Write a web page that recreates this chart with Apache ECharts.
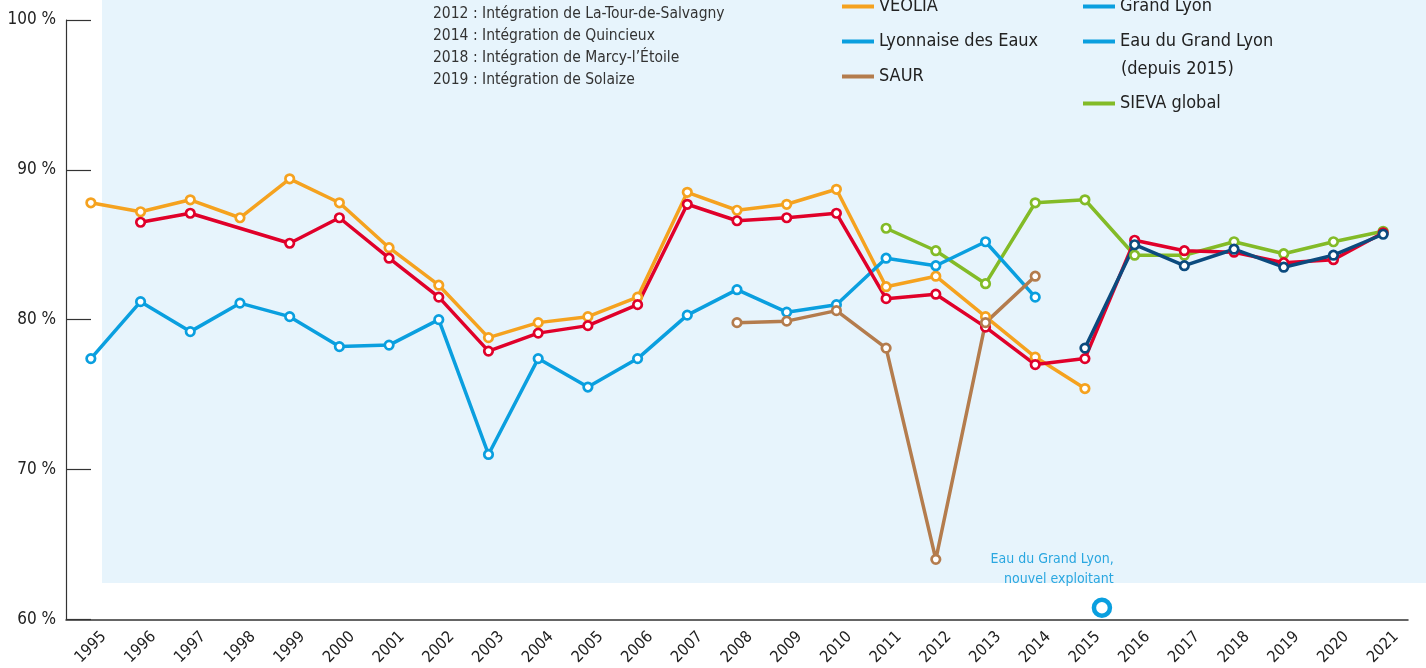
<!DOCTYPE html>
<html>
<head>
<meta charset="utf-8">
<script src="https://cdn.jsdelivr.net/npm/echarts@6/dist/echarts.min.js"></script>
<style>
html,body{margin:0;padding:0;background:#fff;}
#chart{width:1426px;height:668px;}
</style>
</head>
<body>
<div id="chart"></div>
<script>
var years = ['1995','1996','1997','1998','1999','2000','2001','2002','2003','2004','2005','2006','2007','2008','2009','2010','2011','2012','2013','2014','2015','2016','2017','2018','2019','2020','2021'];
var yTicks = [60, 70, 80, 90, 100];
var veolia = [87.8, 87.2, 88.0, 86.8, 89.4, 87.8, 84.8, 82.3, 78.8, 79.8, 80.2, 81.5, 88.5, 87.3, 87.7, 88.7, 82.2, 82.9, 80.2, 77.5, 75.4, null, null, null, null, null, null];
var lyonnaise = [77.4, 81.2, 79.2, 81.1, 80.2, 78.2, 78.3, 80.0, 71.0, 77.4, 75.5, 77.4, 80.3, 82.0, 80.5, 81.0, 84.1, 83.6, 85.2, 81.5, null, null, null, null, null, null, null];
var saur = [null, null, null, null, null, null, null, null, null, null, null, null, null, 79.8, 79.9, 80.6, 78.1, 64.0, 79.8, 82.9, null, null, null, null, null, null, null];
var grandLyon = [null, 86.5, 87.1, null, 85.1, 86.8, 84.1, 81.5, 77.9, 79.1, 79.6, 81.0, 87.7, 86.6, 86.8, 87.1, 81.4, 81.7, 79.5, 77.0, 77.4, 85.3, 84.6, 84.5, 83.8, 84.0, 85.8];
var eauGrandLyon = [null, null, null, null, null, null, null, null, null, null, null, null, null, null, null, null, null, null, null, null, 78.1, 85.0, 83.6, 84.7, 83.5, 84.3, 85.7];
var sieva = [null, null, null, null, null, null, null, null, null, null, null, null, null, null, null, null, 86.1, 84.6, 82.4, 87.8, 88.0, 84.3, 84.3, 85.2, 84.4, 85.2, 85.9];
var notes = ['2012 : Intégration de La-Tour-de-Salvagny', '2014 : Intégration de Quincieux', '2018 : Intégration de Marcy-l\u2019Étoile', '2019 : Intégration de Solaize'];
var annotationYear = '2015';
var annotationValue = 60.9;

var FONT = "'Liberation Sans Narrow', 'DejaVu Sans Condensed', 'Roboto Condensed', sans-serif";
var C = {veolia:'#f5a21f', lyon:'#0a9fdf', saur:'#b47c4d', grand:'#e0002a', eau:'#0b4a7e', sieva:'#83bb27', legendBlue:'#0a9fdf'};

function lineSeries(name, data, color, extra) {
  var s = {
    name: name, type: 'line', data: data,
    symbol: 'circle', symbolSize: 8.5,
    lineStyle: {color: color, width: 3.5},
    itemStyle: {color: '#fff', borderColor: color, borderWidth: 2.7},
    emphasis: {disabled: true},
    animation: false
  };
  for (var k in extra) s[k] = extra[k];
  return s;
}
function legendItem(name, color) {
  return {name: name, itemStyle: {color: color, borderWidth: 0, borderColor: color}};
}

var legendText = {color: '#222', fontSize: 18, fontFamily: FONT, lineHeight: 27};
var legendCommon = {orient: 'vertical', icon: 'rect', itemWidth: 32, itemHeight: 4, itemGap: 8, padding: 0, textStyle: legendText, selectedMode: false};

var noteEls = notes.map(function (t, i) {
  return {type: 'text', left: 433, top: 6 + i * 22, z: 5,
    style: {text: t, fill: '#333', font: '15.5px ' + FONT}};
});

var chart = echarts.init(document.getElementById('chart'), null, {renderer: 'canvas'});
chart.setOption({
  backgroundColor: '#fff',
  animation: false,
  grid: {left: 66, right: 18, top: 20, bottom: 46, containLabel: false},
  graphic: [
    {type: 'rect', left: 102, top: 0, z: -10, shape: {width: 1324, height: 583}, style: {fill: '#e7f4fc'}},
    {type: 'text', left: 1121, top: 60, z: 5, style: {text: '(depuis 2015)', fill: '#222', font: '18px ' + FONT}}
  ].concat(noteEls),
  legend: [
    Object.assign({left: 842, top: -7, data: [
      legendItem('VEOLIA', C.veolia), legendItem('Lyonnaise des Eaux', C.lyon), legendItem('SAUR', C.saur)
    ]}, legendCommon),
    Object.assign({left: 1083, top: -7, data: [
      legendItem('Grand Lyon', C.legendBlue), legendItem('Eau du Grand Lyon', C.legendBlue)
    ]}, legendCommon),
    Object.assign({left: 1083, top: 90, data: [legendItem('SIEVA global', C.sieva)]}, legendCommon)
  ],
  xAxis: {
    type: 'category', data: years, boundaryGap: true,
    axisLine: {lineStyle: {color: '#333', width: 1.5}},
    axisTick: {inside: true, length: 15, lineStyle: {color: '#333', width: 1.2}},
    axisLabel: {interval: 0, rotate: 45, align: 'center', verticalAlign: 'middle', margin: 28,
      color: '#222', fontSize: 16, fontFamily: FONT},
    splitLine: {show: false}
  },
  yAxis: {
    type: 'value', min: yTicks[0], max: yTicks[yTicks.length - 1], interval: 10,
    axisLine: {show: true, lineStyle: {color: '#333', width: 1.2}},
    axisTick: {show: true, inside: true, length: 25, lineStyle: {color: '#333', width: 1.2}},
    axisLabel: {formatter: '{value} %', margin: 10, color: '#222', fontSize: 17, fontFamily: FONT},
    splitLine: {show: false}
  },
  series: [
    lineSeries('SIEVA global', sieva, C.sieva),
    lineSeries('VEOLIA', veolia, C.veolia),
    lineSeries('Lyonnaise des Eaux', lyonnaise, C.lyon),
    lineSeries('Grand Lyon', grandLyon, C.grand, {connectNulls: true}),
    lineSeries('SAUR', saur, C.saur),
    lineSeries('Eau du Grand Lyon', eauGrandLyon, C.eau, {
      markPoint: {
        symbol: 'circle', symbolSize: 16, symbolOffset: [17, 2], silent: true,
        itemStyle: {color: '#fff', borderColor: '#0a9fdf', borderWidth: 4.5},
        label: {show: true, position: [22, -8], align: 'right', verticalAlign: 'bottom',
          formatter: 'Eau du Grand Lyon,\nnouvel exploitant', color: '#2aa7e0', fontSize: 14,
          lineHeight: 20, fontFamily: FONT},
        data: [{coord: [annotationYear, annotationValue]}]
      }
    })
  ]
});
</script>
</body>
</html>
